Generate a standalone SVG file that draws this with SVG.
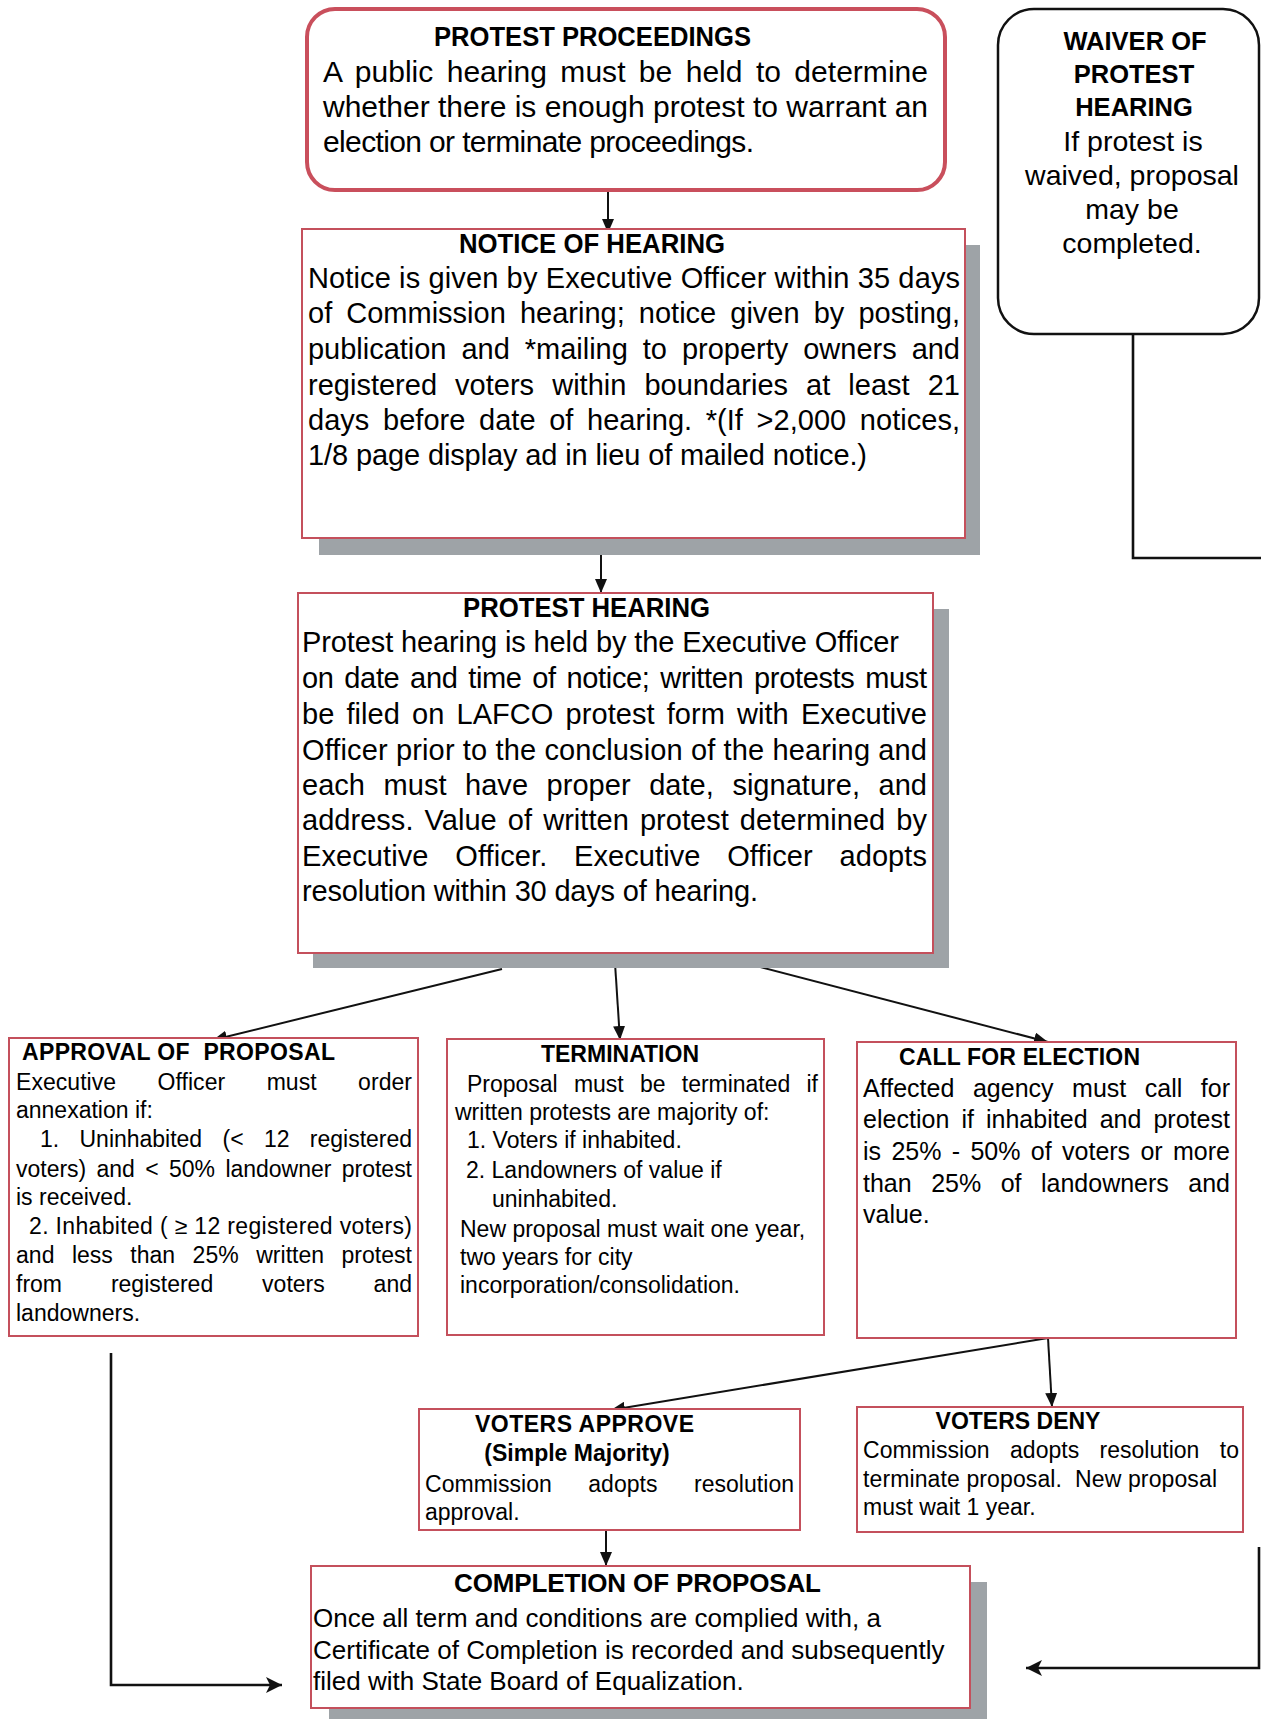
<svg xmlns="http://www.w3.org/2000/svg" width="1261" height="1719" viewBox="0 0 1261 1719">
<style>
.bg{fill:#ffffff}
.box{fill:#ffffff;stroke:#c4505c;stroke-width:2}
.pp{fill:#ffffff;stroke:#c94f5c;stroke-width:4}
.wv{fill:#ffffff;stroke:#111111;stroke-width:2.5}
.shadow{fill:#9ea3a7}
text{font-family:"Liberation Sans",Arial,sans-serif;fill:#000000}
.b{font-weight:bold}
.f30{font-size:30px}
.f29{font-size:29px}
.f28{font-size:28.5px}
.f26{font-size:26px}
.f25{font-size:25px}
.f23{font-size:23px}
.conn{stroke:#111111;stroke-width:2;fill:none}
.conn2{stroke:#111111;stroke-width:2.6;fill:none}
</style>
<defs>
<marker id="ah" viewBox="0 0 14 12" refX="14" refY="6" markerWidth="14" markerHeight="12" markerUnits="userSpaceOnUse" orient="auto">
<path d="M0,0 L14,6 L0,12 Z" fill="#111111"/>
</marker>
<marker id="ahb" viewBox="0 0 16 16" refX="16" refY="8" markerWidth="16" markerHeight="16" markerUnits="userSpaceOnUse" orient="auto">
<path d="M0,0 L16,8 L0,16 L4,8 Z" fill="#111111"/>
</marker>
</defs>
<rect class="bg" x="0" y="0" width="1261" height="1719"/>

<g id="connectors">
<path class="conn" d="M608,190 L608,233" marker-end="url(#ah)"/>
<path class="conn" d="M601,543 L601,593" marker-end="url(#ah)"/>
<path class="conn" d="M502,969 L213,1040" marker-end="url(#ah)"/>
<path class="conn" d="M615,963 L620,1040" marker-end="url(#ah)"/>
<path class="conn" d="M745,963 L1048,1042" marker-end="url(#ah)"/>
<path class="conn" d="M1048,1338 L611,1410" marker-end="url(#ah)"/>
<path class="conn" d="M1048,1338 L1052,1407" marker-end="url(#ah)"/>
<path class="conn" d="M606,1530 L606,1566" marker-end="url(#ah)"/>
<path class="conn2" d="M111,1353 L111,1685 L282,1685" marker-end="url(#ahb)"/>
<path class="conn2" d="M1133,334 L1133,558 L1261,558"/>
<path class="conn2" d="M1259,1547 L1259,1668 L1026,1668" marker-end="url(#ahb)"/>
</g>

<g id="protest-proceedings">
<rect class="pp" x="307" y="9" width="638" height="181" rx="28"/>
<text class="b" x="592.5" y="46" text-anchor="middle" font-size="27" textLength="317" lengthAdjust="spacingAndGlyphs">PROTEST PROCEEDINGS</text>
<text class="f30" x="323" y="82" textLength="605" word-spacing="5">A public hearing must be held to determine</text>
<text class="f30" x="323" y="117" textLength="605">whether there is enough protest to warrant an</text>
<text class="f30" x="323" y="152" textLength="431">election or terminate proceedings.</text>
</g>

<g id="waiver">
<rect class="wv" x="998" y="9" width="261" height="325" rx="36"/>
<text class="b" x="1135" y="50" text-anchor="middle" font-size="25.5">WAIVER OF</text>
<text class="b" x="1134" y="83" text-anchor="middle" font-size="25.5">PROTEST</text>
<text class="b" x="1134" y="116" text-anchor="middle" font-size="25.5">HEARING</text>
<text class="f28" x="1133" y="151" text-anchor="middle">If protest is</text>
<text class="f28" x="1132" y="185" text-anchor="middle">waived, proposal</text>
<text class="f28" x="1132" y="219" text-anchor="middle">may be</text>
<text class="f28" x="1132" y="253" text-anchor="middle">completed.</text>
</g>

<g id="notice-of-hearing">
<rect class="shadow" x="319" y="245" width="661" height="310"/>
<rect class="box" x="302" y="229" width="663" height="309"/>
<text class="b" x="592" y="253" text-anchor="middle" font-size="27" textLength="266" lengthAdjust="spacingAndGlyphs">NOTICE OF HEARING</text>
<text class="f29" x="308" y="288" textLength="652">Notice is given by Executive Officer within 35 days</text>
<text class="f29" x="308" y="323" textLength="652" word-spacing="6">of Commission hearing; notice given by posting,</text>
<text class="f29" x="308" y="359" textLength="652" word-spacing="7">publication and *mailing to property owners and</text>
<text class="f29" x="308" y="395" textLength="652" word-spacing="10">registered voters within boundaries at least 21</text>
<text class="f29" x="308" y="430" textLength="652" word-spacing="5.5">days before date of hearing. *(If &gt;2,000 notices,</text>
<text class="f29" x="308" y="465" textLength="559">1/8 page display ad in lieu of mailed notice.)</text>
</g>

<g id="protest-hearing">
<rect class="shadow" x="313" y="609" width="636" height="359"/>
<rect class="box" x="298" y="593" width="635" height="360"/>
<text class="b" x="586.5" y="617" text-anchor="middle" font-size="27" textLength="247" lengthAdjust="spacingAndGlyphs">PROTEST HEARING</text>
<text class="f29" x="302" y="652" textLength="597">Protest hearing is held by the Executive Officer</text>
<text class="f29" x="302" y="688" textLength="625" word-spacing="3">on date and time of notice; written protests must</text>
<text class="f29" x="302" y="724" textLength="625" word-spacing="4">be filed on LAFCO protest form with Executive</text>
<text class="f29" x="302" y="760" textLength="625">Officer prior to the conclusion of the hearing and</text>
<text class="f29" x="302" y="795" textLength="625" word-spacing="10.5">each must have proper date, signature, and</text>
<text class="f29" x="302" y="830" textLength="625" word-spacing="3">address. Value of written protest determined by</text>
<text class="f29" x="302" y="866" textLength="625" word-spacing="18.5">Executive Officer. Executive Officer adopts</text>
<text class="f29" x="302" y="901" textLength="456">resolution within 30 days of hearing.</text>
</g>

<g id="approval-of-proposal">
<rect class="box" x="9" y="1038" width="409" height="298"/>
<text class="b f23" x="22" y="1060" textLength="313" xml:space="preserve">APPROVAL OF  PROPOSAL</text>
<text class="f23" x="16" y="1090" textLength="396" word-spacing="35">Executive Officer must order</text>
<text class="f23" x="16" y="1118">annexation if:</text>
<text class="f23" x="40" y="1147" textLength="372" word-spacing="14">1. Uninhabited (&lt; 12 registered</text>
<text class="f23" x="16" y="1177" textLength="396" word-spacing="4">voters) and &lt; 50% landowner protest</text>
<text class="f23" x="16" y="1205">is received.</text>
<text class="f23" x="29" y="1234" textLength="383">2. Inhabited ( ≥ 12 registered voters)</text>
<text class="f23" x="16" y="1263" textLength="396" word-spacing="11">and less than 25% written protest</text>
<text class="f23" x="16" y="1292" textLength="396" word-spacing="42.5">from registered voters and</text>
<text class="f23" x="16" y="1321">landowners.</text>
</g>

<g id="termination">
<rect class="box" x="447" y="1039" width="377" height="296"/>
<text class="b f23" x="620" y="1062" text-anchor="middle">TERMINATION</text>
<text class="f23" x="467" y="1092" textLength="351" word-spacing="10">Proposal must be terminated if</text>
<text class="f23" x="455" y="1120">written protests are majority of:</text>
<text class="f23" x="467" y="1148">1. Voters if inhabited.</text>
<text class="f23" x="466" y="1178">2. Landowners of value if</text>
<text class="f23" x="492" y="1207">uninhabited.</text>
<text class="f23" x="460" y="1237">New proposal must wait one year,</text>
<text class="f23" x="460" y="1265">two years for city</text>
<text class="f23" x="460" y="1293">incorporation/consolidation.</text>
</g>

<g id="call-for-election">
<rect class="box" x="857" y="1042" width="379" height="296"/>
<text class="b f23" x="899" y="1065" textLength="241">CALL FOR ELECTION</text>
<text class="f25" x="863" y="1097" textLength="367" word-spacing="11.5">Affected agency must call for</text>
<text class="f25" x="863" y="1128" textLength="367" word-spacing="5">election if inhabited and protest</text>
<text class="f25" x="863" y="1160" textLength="367" word-spacing="3.4">is 25% - 50% of voters or more</text>
<text class="f25" x="863" y="1192" textLength="367" word-spacing="12.5">than 25% of landowners and</text>
<text class="f25" x="863" y="1223">value.</text>
</g>

<g id="voters-approve">
<rect class="box" x="419" y="1409" width="381" height="121"/>
<text class="b f23" x="584.5" y="1432" text-anchor="middle" textLength="219">VOTERS APPROVE</text>
<text class="b f23" x="577" y="1461" text-anchor="middle">(Simple Majority)</text>
<text class="f23" x="425" y="1492" textLength="369" word-spacing="30">Commission adopts resolution</text>
<text class="f23" x="425" y="1520">approval.</text>
</g>

<g id="voters-deny">
<rect class="box" x="857" y="1407" width="386" height="125"/>
<text class="b f23" x="1018" y="1429" text-anchor="middle">VOTERS DENY</text>
<text class="f23" x="863" y="1458" textLength="376" word-spacing="14">Commission adopts resolution to</text>
<text class="f23" x="863" y="1487" textLength="354" xml:space="preserve">terminate proposal.  New proposal</text>
<text class="f23" x="863" y="1515">must wait 1 year.</text>
</g>

<g id="completion-of-proposal">
<rect class="shadow" x="329" y="1582" width="658" height="140"/>
<rect class="box" x="311" y="1566" width="659" height="142"/>
<text class="b f26" x="637.5" y="1592" text-anchor="middle" textLength="367">COMPLETION OF PROPOSAL</text>
<text class="f26" x="313" y="1627">Once all term and conditions are complied with, a</text>
<text class="f26" x="313" y="1659">Certificate of Completion is recorded and subsequently</text>
<text class="f26" x="313" y="1690">filed with State Board of Equalization.</text>
</g>
</svg>
